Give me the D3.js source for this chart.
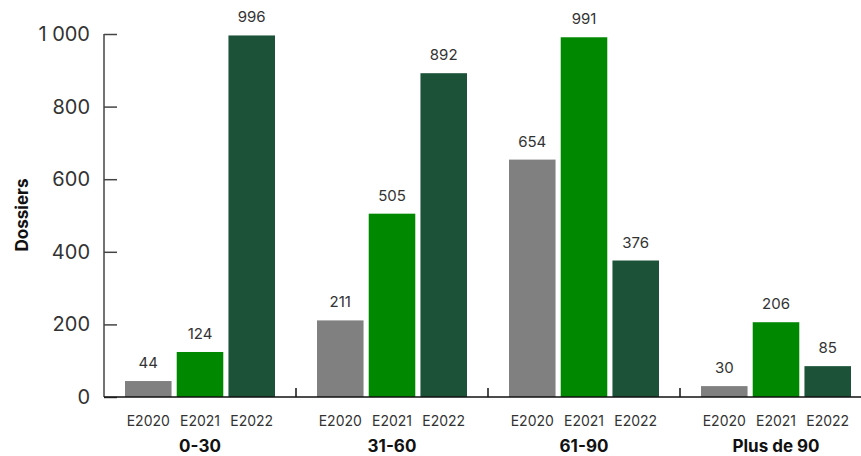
<!DOCTYPE html>
<html>
<head>
<meta charset="utf-8">
<script src="https://cdn.jsdelivr.net/npm/d3@7"></script>
<style>
  body { margin: 0; background: #fff; }
  svg { display: block; font-family: "Inter", "Noto Sans", sans-serif; }
</style>
</head>
<body>
<div id="chart"></div>
<script>
// data
const groups = ["0-30", "31-60", "61-90", "Plus de 90"];
const series = ["E2020", "E2021", "E2022"];
const e2020 = [44, 211, 654, 30];
const e2021 = [124, 505, 991, 206];
const e2022 = [996, 892, 376, 85];
const yTicks = [0, 200, 400, 600, 800, 1000];
const colors = ["#808080", "#008800", "#1c5338"];

const values = [e2020, e2021, e2022];
const rows = [];
groups.forEach((g, gi) => {
    series.forEach((s, si) => {
        rows.push({ group: g, series: s, value: values[si][gi], si: si });
    });
});

const width = 861, height = 456;
const svg = d3.select("#chart")
    .append("svg")
    .attr("width", width)
    .attr("height", height);

const plotLeft = 104, plotRight = 872, plotTop = 34, plotBottom = 397;

const x0 = d3.scaleBand().domain(groups).range([plotLeft, plotRight]).paddingInner(0).paddingOuter(0);
const x1 = d3.scaleBand().domain(series).range([21, x0.bandwidth() - 21]).paddingInner(0.1).paddingOuter(0);
const y = d3.scaleLinear().domain([0, 1000]).range([plotBottom, plotTop]);

const fr = d3.formatLocale({ decimal: ",", thousands: "\u00a0", grouping: [3], currency: ["", " €"] });
const fmt = fr.format(",d");

// y axis
const yAxis = svg.append("g")
    .attr("transform", `translate(${plotLeft},0)`)
    .call(d3.axisRight(y).tickValues(yTicks).tickSize(13).tickFormat(""));
yAxis.select(".domain").attr("stroke", "#444").attr("stroke-width", 1.5).attr("d", `M0,${plotBottom}V${plotTop}`);
yAxis.selectAll(".tick line").attr("stroke", "#444").attr("stroke-width", 1.5);

svg.append("g").selectAll("text")
    .data(yTicks)
    .join("text")
    .attr("x", 90)
    .attr("y", d => y(d))
    .attr("dy", "0.35em")
    .attr("text-anchor", "end")
    .attr("fill", "#333")
    .attr("font-size", 20)
    .text(d => fmt(d));

// bars
const bars = svg.append("g");
bars.selectAll("rect")
    .data(rows)
    .join("rect")
    .attr("x", d => x0(d.group) + x1(d.series))
    .attr("y", d => y(d.value))
    .attr("width", x1.bandwidth())
    .attr("height", d => y(0) - y(d.value))
    .attr("fill", d => colors[d.si]);

bars.selectAll("text.val")
    .data(rows)
    .join("text")
    .attr("class", "val")
    .attr("x", d => x0(d.group) + x1(d.series) + x1.bandwidth() / 2)
    .attr("y", d => y(d.value) - 13)
    .attr("text-anchor", "middle")
    .attr("fill", "#333")
    .attr("font-size", 15)
    .text(d => fmt(d.value));

// x axis
svg.append("line")
    .attr("x1", plotLeft).attr("x2", plotRight)
    .attr("y1", plotBottom).attr("y2", plotBottom)
    .attr("stroke", "#111").attr("stroke-width", 1.5);

svg.append("g").selectAll("line")
    .data(groups.slice(1))
    .join("line")
    .attr("x1", d => x0(d)).attr("x2", d => x0(d))
    .attr("y1", plotBottom).attr("y2", plotBottom - 9)
    .attr("stroke", "#111").attr("stroke-width", 1.5);

bars.selectAll("text.ser")
    .data(rows)
    .join("text")
    .attr("class", "ser")
    .attr("x", d => x0(d.group) + x1(d.series) + x1.bandwidth() / 2)
    .attr("y", 426)
    .attr("text-anchor", "middle")
    .attr("fill", "#333")
    .attr("font-size", 14)
    .text(d => d.series);

svg.append("g").selectAll("text")
    .data(groups)
    .join("text")
    .attr("x", d => x0(d) + x0.bandwidth() / 2)
    .attr("y", 452)
    .attr("text-anchor", "middle")
    .attr("fill", "#111")
    .attr("font-size", 17)
    .attr("font-weight", "bold")
    .text(d => d);

svg.append("text")
    .attr("transform", "translate(28,215) rotate(-90)")
    .attr("text-anchor", "middle")
    .attr("fill", "#111")
    .attr("font-size", 17)
    .attr("font-weight", "bold")
    .text("Dossiers");
</script>
</body>
</html>
